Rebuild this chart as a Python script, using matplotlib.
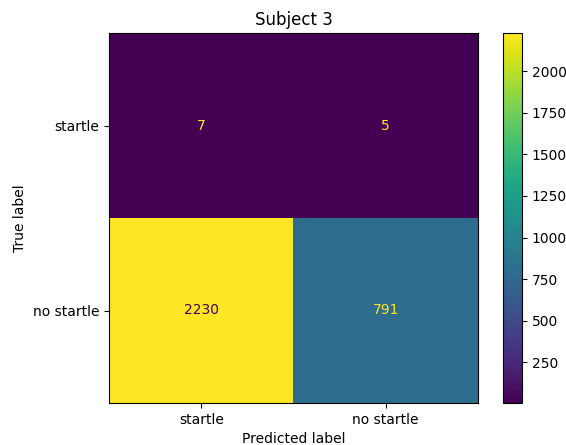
import numpy as np
import matplotlib.pyplot as plt

labels = ['startle', 'no startle']
cm = np.array([[7, 5],
               [2230, 791]])

W, H = 566, 445
fig = plt.figure(figsize=(W / 100, H / 100), dpi=100)
ax = fig.add_axes([109 / W, (H - 403) / H, (478 - 109) / W, (403 - 33) / H])
cax = fig.add_axes([503 / W, (H - 403) / H, (522 - 503) / W, (403 - 33) / H])

cmap = plt.get_cmap('viridis')
im = ax.imshow(cm, interpolation='nearest', cmap=cmap, aspect='auto')

thresh = (cm.max() + cm.min()) / 2.0
for i in range(cm.shape[0]):
    for j in range(cm.shape[1]):
        color = cmap(0.0) if cm[i, j] > thresh else cmap(1.0)
        ax.text(j, i, format(cm[i, j], 'd'), ha='center', va='center', color=color)

fig.colorbar(im, cax=cax)

ax.set_xticks(np.arange(len(labels)))
ax.set_xticklabels(labels)
ax.set_yticks(np.arange(len(labels)))
ax.set_yticklabels(labels)
ax.set_xlabel('Predicted label')
ax.set_ylabel('True label')
ax.set_title('Subject 3')

fig.savefig('out.png', dpi=100)
